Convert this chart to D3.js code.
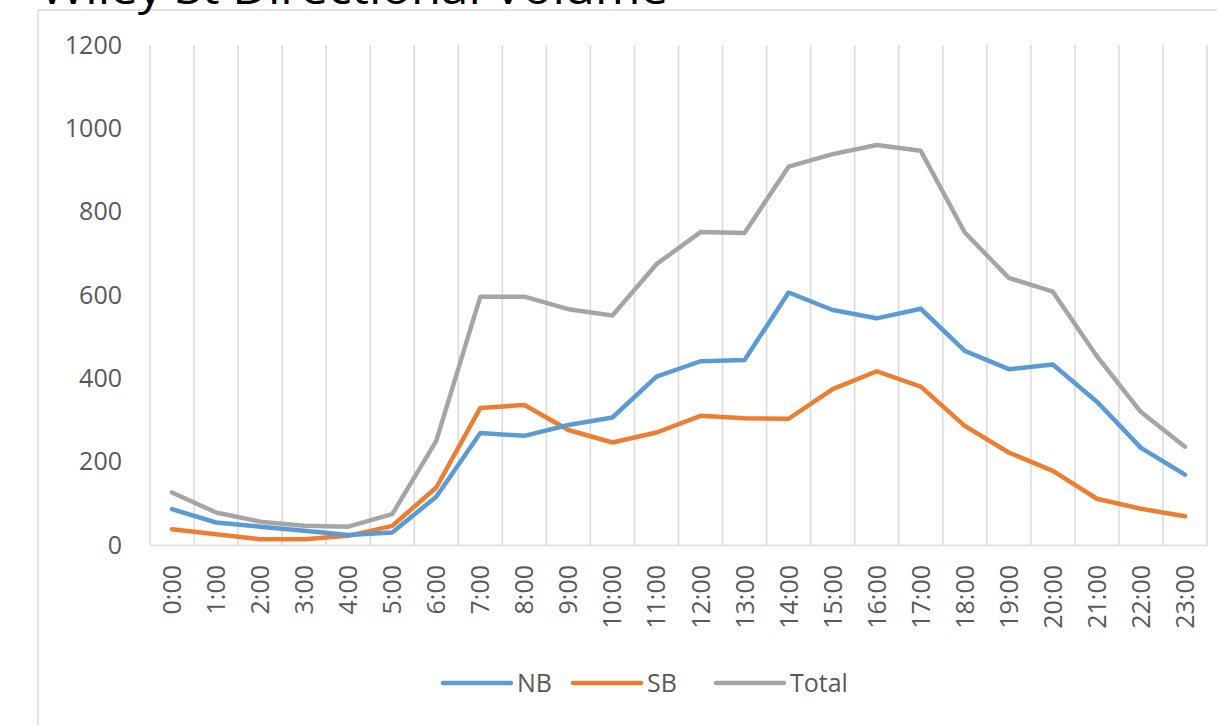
<!DOCTYPE html>
<meta charset="utf-8">
<style>
  body { margin: 0; background: #fff; }
  text { font-family: "Open Sans", sans-serif; fill: #595959; }
</style>
<script src="https://d3js.org/d3.v7.min.js"></script>
<div id="chart"></div>
<script>
var hours = ["0:00","1:00","2:00","3:00","4:00","5:00","6:00","7:00","8:00","9:00","10:00","11:00",
             "12:00","13:00","14:00","15:00","16:00","17:00","18:00","19:00","20:00","21:00","22:00","23:00"];
var nb    = [86,54,44,34,24,30,116,269,262,288,306,404,441,444,606,564,544,567,466,422,433,344,233,169];
var sb    = [38,26,14,14,22,46,138,329,336,276,246,270,310,304,303,374,417,380,286,222,178,111,87,69];
var total = [126,78,56,46,44,74,250,596,596,566,551,674,751,749,908,938,960,946,750,641,608,453,319,236];
var yTicks = [0,200,400,600,800,1000,1200];

var series = [
  {name: "NB", values: nb, color: "#5B9BD5"},
  {name: "SB", values: sb, color: "#ED7D31"},
  {name: "Total", values: total, color: "#A5A5A5"}
];

var W = 1217, H = 725;
var svg = d3.select("#chart").append("svg")
    .attr("width", W)
    .attr("height", H);

// chart area border
svg.append("path")
    .attr("d", "M38," + H + "V10H" + W)
    .attr("fill", "none")
    .attr("stroke", "#d9d9d9")
    .attr("stroke-width", 1.5);

// title (cut off at the top like the original)
svg.append("text")
    .attr("x", 40)
    .attr("y", 4)
    .attr("textLength", 628)
    .attr("lengthAdjust", "spacingAndGlyphs")
    .style("font-size", "44px")
    .style("fill", "#000")
    .text("Wiley St Directional Volume");

var x = d3.scaleBand()
    .domain(hours)
    .range([150, 1207])
    .padding(0);

var y = d3.scaleLinear()
    .domain([0, 1200])
    .range([545, 45]);

// vertical gridlines at category boundaries
var bounds = hours.map(function(h) { return x(h); });
bounds.push(x(hours[hours.length - 1]) + x.bandwidth());
svg.append("g").selectAll("line")
    .data(bounds)
    .enter().append("line")
    .attr("x1", function(d) { return d; })
    .attr("x2", function(d) { return d; })
    .attr("y1", y(1200))
    .attr("y2", y(0))
    .attr("stroke", "#d9d9d9")
    .attr("stroke-width", 1.5);

// y axis labels
var yAxis = svg.append("g")
    .attr("transform", "translate(150,0)")
    .call(d3.axisLeft(y).tickValues(yTicks).tickSize(0).tickPadding(28).tickFormat(d3.format("d")));
yAxis.select(".domain").remove();
yAxis.selectAll("text")
    .style("font-size", "25px")
    .style("font-family", '"Open Sans", sans-serif')
    .attr("fill", "#595959");

// x axis
var xAxis = svg.append("g")
    .attr("transform", "translate(0," + y(0) + ")")
    .call(d3.axisBottom(x).tickSize(0));
xAxis.select(".domain")
    .attr("stroke", "#d9d9d9")
    .attr("stroke-width", 1.5);
xAxis.selectAll("text")
    .style("font-size", "25px")
    .style("font-family", '"Open Sans", sans-serif')
    .attr("fill", "#595959")
    .attr("text-anchor", "end")
    .attr("transform", "rotate(-90)")
    .attr("x", -20)
    .attr("y", 0)
    .attr("dy", "0.36em");

// lines
var line = d3.line()
    .x(function(d, i) { return x(hours[i]) + x.bandwidth() / 2; })
    .y(function(d) { return y(d); });

svg.append("g").selectAll("path")
    .data(series.slice().reverse())
    .enter().append("path")
    .attr("d", function(s) { return line(s.values); })
    .attr("fill", "none")
    .attr("stroke", function(s) { return s.color; })
    .attr("stroke-width", 4.5)
    .attr("stroke-linejoin", "round")
    .attr("stroke-linecap", "round");

// legend
var legendX = [443, 573, 716];
var lg = svg.append("g").selectAll("g")
    .data(series)
    .enter().append("g")
    .attr("transform", function(d, i) { return "translate(" + legendX[i] + ",683)"; });
lg.append("line")
    .attr("x1", 0).attr("x2", 68)
    .attr("stroke", function(d) { return d.color; })
    .attr("stroke-width", 4.5)
    .attr("stroke-linecap", "round");
lg.append("text")
    .attr("x", 74)
    .attr("dy", "0.36em")
    .style("font-size", "25px")
    .text(function(d) { return d.name; });
</script>
